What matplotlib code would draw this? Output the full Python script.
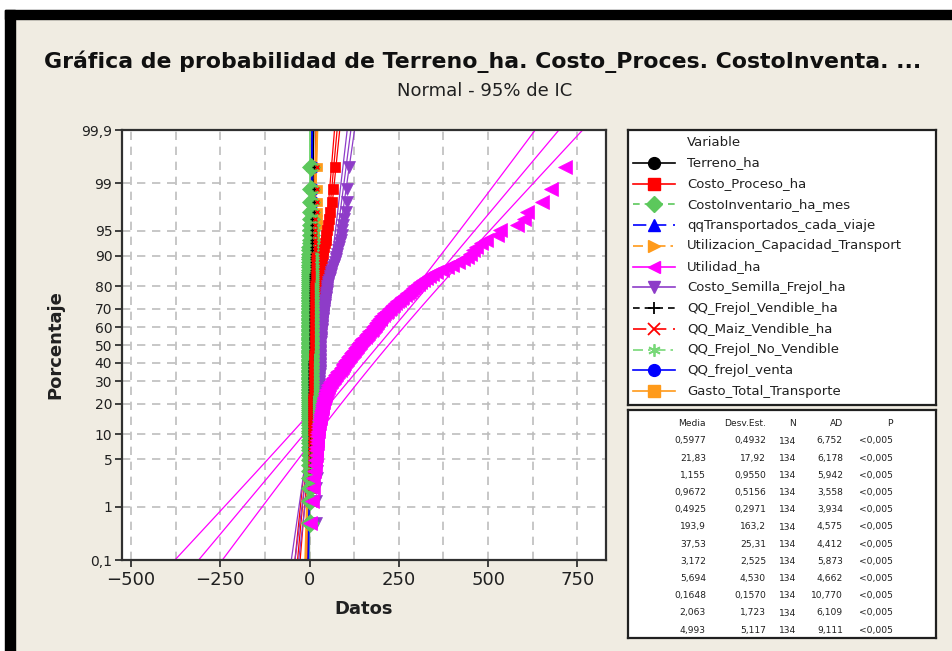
import numpy as np
import matplotlib
matplotlib.use("Agg")
import matplotlib.pyplot as plt
from matplotlib.patches import Rectangle
from statistics import NormalDist

# ---------------- data ----------------
variables = ["Terreno_ha", "Costo_Proceso_ha", "CostoInventario_ha_mes",
             "qqTransportados_cada_viaje", "Utilizacion_Capacidad_Transport",
             "Utilidad_ha", "Costo_Semilla_Frejol_ha", "QQ_Frejol_Vendible_ha",
             "QQ_Maiz_Vendible_ha", "QQ_Frejol_No_Vendible", "QQ_frejol_venta",
             "Gasto_Total_Transporte"]

# discrete-ish series: values with repetition counts (read approx. from the stacks near 0)
terreno_vals = [0, 1]
terreno_counts = [54, 80]
inventario_vals = [0.0, 0.3, 0.6, 0.9, 1.2, 1.5, 1.8, 2.4, 3.0, 4.0, 5.0]
inventario_counts = [10, 15, 20, 22, 20, 15, 12, 10, 6, 3, 1]
transportados_vals = [0.25, 0.5, 1.0, 1.5, 2.0]
transportados_counts = [20, 15, 60, 30, 9]
utilizacion_vals = [0.1, 0.25, 0.5, 0.75, 1.0]
utilizacion_counts = [25, 20, 40, 30, 19]
frejol_vend_vals = [0, 1, 2, 3, 4, 5, 6, 8, 12]
frejol_vend_counts = [10, 20, 25, 25, 20, 14, 10, 6, 4]
maiz_vals = [0, 2, 4, 6, 8, 10, 15, 20]
maiz_counts = [12, 20, 30, 28, 20, 12, 8, 4]
frejol_novend_vals = [0, 0.1, 0.2, 0.3, 0.5, 0.8]
frejol_novend_counts = [30, 35, 35, 20, 10, 4]
frejol_venta_vals = [0, 1, 2, 3, 4, 6, 9]
frejol_venta_counts = [15, 30, 40, 25, 14, 7, 3]
gasto_vals = [0, 2, 4, 6, 10, 15, 25]
gasto_counts = [20, 30, 35, 20, 15, 8, 6]

costo_proceso = [3, 4, 5, 5.5, 6, 6.5, 7,
                 7.3, 7.6, 7.9, 8.2, 8.5, 8.8, 9,
                 9.2, 9.4, 9.6, 9.8, 10, 10.2, 10.4, 10.6, 10.8, 11, 11.2, 11.4, 11.6,
                 11.8, 12, 12.2, 12.4, 12.6, 12.8, 13, 13.2, 13.4, 13.6, 13.8, 14, 14.2, 14.4,
                 14.6, 14.8, 15, 15.2, 15.4, 15.6, 15.8, 16, 16.2, 16.4, 16.6, 16.8, 17,
                 17.2, 17.4, 17.6, 17.8, 18, 18.2, 18.4, 18.6, 18.8, 19, 19.2, 19.4, 19.6, 19.8,
                 20, 20.2, 20.4, 20.6, 20.8, 21, 21.2, 21.4, 21.6, 21.8, 22, 22.2, 22.4,
                 22.6, 22.8, 23, 23.2, 23.4, 23.6, 23.8, 24, 24.2, 24.4, 24.6, 24.8, 25,
                 25.3, 25.6, 25.9, 26.2, 26.5, 26.8, 27.1, 27.4, 27.7, 28, 28.3, 28.6, 28.9, 29.2,
                 29.4, 29.6, 29.8, 30, 30.2, 30.4, 30.6,
                 31, 31.5, 32, 33, 34, 35,
                 37, 39, 41, 43,
                 45, 47, 49,
                 51, 55, 58, 62, 65, 71]

costo_semilla = [17, 18.5, 19.5, 20, 20.5, 21, 21.5,
                 22, 22.3, 22.6, 23, 23.3, 23.6, 24,
                 24.2, 24.4, 24.6, 24.8, 25, 25.2, 25.4, 25.6, 25.8, 25.9, 26, 26, 26,
                 26.1, 26.2, 26.3, 26.4, 26.5, 26.6, 26.7, 26.8, 26.9, 27, 27.1, 27.2, 27.3, 27.5,
                 27.6, 27.7, 27.8, 27.9, 28, 28.1, 28.2, 28.4, 28.5, 28.6, 28.7, 28.8, 29,
                 29.1, 29.2, 29.3, 29.4, 29.5, 29.6, 29.7, 29.8, 29.9, 30, 30.1, 30.2, 30.3, 30.4,
                 30.7, 31, 31.3, 31.6, 31.9, 32.2, 32.5, 32.8, 33.1, 33.4, 33.7, 34, 34.3,
                 34.7, 35.1, 35.5, 35.9, 36.3, 36.7, 37.1, 37.5, 37.9, 38.3, 38.8, 39.4, 40,
                 40.7, 41.4, 42.1, 42.8, 43.5, 44.2, 44.9, 45.6, 46.3, 47, 47.7, 48.4, 49.2, 50,
                 51.5, 53, 54.5, 56, 57.5, 59, 61,
                 64, 67, 69, 71, 73, 75,
                 78, 80, 82, 84,
                 87, 90, 92,
                 95, 97, 101, 104, 106, 110]

utilidad = [2, 6, 9, 11, 13, 14, 16,
            17, 18, 19, 20, 21, 21, 22,
            23, 24, 25, 26, 27, 28,
            29, 30, 31, 33, 34, 35, 36,
            37, 38, 40, 41, 42, 44, 45,
            47, 49, 51, 53, 55, 58, 60,
            63, 66, 69, 72, 75, 78,
            81, 84, 87, 90, 93, 95, 97,
            100, 103, 106, 108, 110, 113, 115,
            118, 121, 124, 127, 130, 132, 135,
            138, 141, 144, 147, 150, 154,
            157, 160, 164, 167, 171, 175, 178,
            181, 184, 187, 190, 193, 196, 198,
            201, 205, 209, 213, 217, 222,
            226, 230, 235, 240, 245, 250, 255,
            260, 266, 272, 278, 284, 290, 296,
            303, 310, 318, 326, 334, 343,
            355, 370, 385, 400,
            415, 430,
            440, 450, 458, 465, 480, 495, 525, 533, 580, 600, 610, 650, 675, 716]

# summary table (as printed)
media = [0.5977, 21.83, 1.155, 0.9672, 0.4925, 193.9, 37.53, 3.172, 5.694, 0.1648, 2.063, 4.993]
desv_est = [0.4932, 17.92, 0.9550, 0.5156, 0.2971, 163.2, 25.31, 2.525, 4.530, 0.1570, 1.723, 5.117]
n_obs = [134] * 12
ad_stat = [6.752, 6.178, 5.942, 3.558, 3.934, 4.575, 4.412, 5.873, 4.662, 10.770, 6.109, 9.111]
p_text = ["<0,005"] * 12

pct_ticks = [0.1, 1, 5, 10, 20, 30, 40, 50, 60, 70, 80, 90, 95, 99, 99.9]
pct_labels = ["0,1", "1", "5", "10", "20", "30", "40", "50", "60", "70", "80", "90", "95", "99", "99,9"]
x_ticks = [-500, -250, 0, 250, 500, 750]

# ---------------- styles ----------------
colors = ["#000000", "#FF0000", "#5CC85C", "#0000FF", "#FF9A1A", "#FF00FF",
          "#8E3CC8", "#000000", "#FF0000", "#78D878", "#0000FF", "#FF9A1A"]
markers = ["o", "s", "D", "^", ">", "<", "v", "+", "x", (6, 2, 0), "o", "s"]
DASH = (0, (4, 3))
LONG = (0, (8, 4))
DDOT = (0, (6, 3, 1.5, 3))
lstyles = ["-", "-", DASH, LONG, DDOT, "-", "-", DASH, LONG, DDOT, "-", "-"]
msizes = [5, 6.5, 9.5, 5.5, 5.5, 10, 8, 3, 3, 5, 8.5, 5.5]
zords = [3.0, 3.4, 5.5, 3.1, 3.2, 6.0, 5.0, 5.6, 5.6, 3.3, 2.9, 3.15]

series = [np.repeat(terreno_vals, terreno_counts),
          np.array(costo_proceso, float),
          np.repeat(inventario_vals, inventario_counts),
          np.repeat(transportados_vals, transportados_counts),
          np.repeat(utilizacion_vals, utilizacion_counts),
          np.array(utilidad, float),
          np.array(costo_semilla, float),
          np.repeat(frejol_vend_vals, frejol_vend_counts),
          np.repeat(maiz_vals, maiz_counts),
          np.repeat(frejol_novend_vals, frejol_novend_counts),
          np.repeat(frejol_venta_vals, frejol_venta_counts),
          np.repeat(gasto_vals, gasto_counts)]

nd = NormalDist()
BG = "#F0ECE2"
W, H = 952, 651

def fx(px):
    return px / W

def fy(py):
    return 1 - py / H

fig = plt.figure(figsize=(9.52, 6.51), dpi=100, facecolor=BG)

# outer screenshot frame
fig.patches.append(Rectangle((0, fy(10)), 1, 10 / H, transform=fig.transFigure, color="white", zorder=0))
fig.patches.append(Rectangle((0, 0), fx(5), 1, transform=fig.transFigure, color="white", zorder=0))
fig.patches.append(Rectangle((fx(5), fy(19)), 1, 9 / H, transform=fig.transFigure, color="black", zorder=1))
fig.patches.append(Rectangle((fx(5), 0), fx(10), fy(10), transform=fig.transFigure, color="black", zorder=1))

# ---------------- main axes ----------------
ax = fig.add_axes([fx(122), fy(560), fx(606) - fx(122), (560 - 130) / H])
ax.set_facecolor("white")
zlo, zhi = nd.inv_cdf(0.001), nd.inv_cdf(0.999)
ax.set_ylim(zlo, zhi)
ax.set_xlim(-525, 830)

for k, vals in enumerate(series):
    v = np.sort(vals)
    n = len(v)
    ranks = np.arange(1, n + 1)
    z = np.array([nd.inv_cdf((r - 0.3) / (n + 0.4)) for r in ranks])
    c = colors[k]
    m, s = media[k], desv_est[k]
    zl = np.linspace(zlo, zhi, 60)
    xf = m + s * zl
    se = s * np.sqrt(1.0 / n + zl ** 2 / (2.0 * n))
    ax.plot(xf, zl, color=c, lw=0.9, ls=lstyles[k], zorder=2.5)
    ax.plot(xf - 1.96 * se, zl, color=c, lw=0.9, zorder=2.5)
    ax.plot(xf + 1.96 * se, zl, color=c, lw=0.9, zorder=2.5)
    mk = markers[k]
    if mk in ("+", "x") or isinstance(mk, tuple):
        ax.plot(v, z, ls="none", marker=mk, ms=msizes[k], mec=c, mew=1.0, zorder=zords[k])
    else:
        ax.plot(v, z, ls="none", marker=mk, ms=msizes[k], mfc=c, mec=c, mew=0.5, zorder=zords[k])

ax.set_yticks([nd.inv_cdf(p / 100) for p in pct_ticks])
ax.set_yticklabels(pct_labels)
ax.set_xticks(x_ticks)
ax.set_xticks([-375, -125, 125, 375, 625], minor=True)
ax.tick_params(axis="x", which="major", labelsize=13, length=5, width=1.3, color="#303030", labelcolor="#202020", pad=3)
ax.tick_params(axis="x", which="minor", length=0)
ax.tick_params(axis="y", labelsize=10, length=5, width=1.3, color="#303030", labelcolor="#202020", pad=2)
ax.grid(True, which="both", axis="x", color="#BDBDBD", ls=(0, (5, 4)), lw=1.2, zorder=0)
ax.grid(True, which="major", axis="y", color="#BDBDBD", ls=(0, (5, 4)), lw=1.2, zorder=0)
ax.set_axisbelow(True)
for sp in ax.spines.values():
    sp.set_color("#303030")
    sp.set_linewidth(1.6)

ax.set_ylabel("Porcentaje", fontsize=13, fontweight="bold", color="#202020")
ax.yaxis.set_label_coords(-0.12, 0.5)
ax.set_xlabel("Datos", fontsize=13, fontweight="bold", color="#202020")
ax.xaxis.set_label_coords(0.5, -0.093)

fig.text(fx(483), fy(62), "Gráfica de probabilidad de Terreno_ha. Costo_Proces. CostoInventa. ...",
         ha="center", va="center", fontsize=15.8, fontweight="bold", color="#101010")
fig.text(fx(485), fy(91), "Normal - 95% de IC", ha="center", va="center", fontsize=13, color="#202020")

# ---------------- legend box ----------------
lax = fig.add_axes([fx(628), fy(405), fx(936) - fx(628), (405 - 130) / H])
lax.set_xlim(628, 936)
lax.set_ylim(405, 130)
lax.set_xticks([])
lax.set_yticks([])
lax.set_facecolor("white")
for sp in lax.spines.values():
    sp.set_color("#202020")
    sp.set_linewidth(1.6)
lax.text(687, 142, "Variable", fontsize=9.5, va="center", ha="left", color="#202020")
for k, name in enumerate(variables):
    yy = 163 + k * 20.73
    c = colors[k]
    lax.plot([633, 675], [yy, yy], color=c, lw=1.2, ls=lstyles[k])
    mk = markers[k]
    if mk in ("+", "x") or isinstance(mk, tuple):
        lax.plot([654], [yy], ls="none", marker=mk, ms=9, mec=c, mew=1.3)
    else:
        lax.plot([654], [yy], ls="none", marker=mk, ms=8.5, mfc=c, mec=c)
    lax.text(687, yy, name, fontsize=9.5, va="center", ha="left", color="#202020")

# ---------------- statistics table ----------------
sax = fig.add_axes([fx(628), fy(638), fx(936) - fx(628), (638 - 410) / H])
sax.set_xlim(628, 936)
sax.set_ylim(638, 410)
sax.set_xticks([])
sax.set_yticks([])
sax.set_facecolor("white")
for sp in sax.spines.values():
    sp.set_color("#202020")
    sp.set_linewidth(1.6)

def comma(txt):
    return txt.replace(".", ",")

col_x = [706, 766, 796, 843, 893]
headers = ["Media", "Desv.Est.", "N", "AD", "P"]
for cx, h in zip(col_x, headers):
    sax.text(cx, 423, h, fontsize=6.6, ha="right", va="center", color="#202020")
for k in range(len(variables)):
    yy = 441 + k * 17.2
    row = [comma(f"{media[k]:#.4g}"), comma(f"{desv_est[k]:#.4g}"), str(n_obs[k]),
           comma(f"{ad_stat[k]:.3f}"), p_text[k]]
    for cx, t in zip(col_x, row):
        sax.text(cx, yy, t, fontsize=6.6, ha="right", va="center", color="#202020")

fig.savefig("out.png", dpi=100, facecolor=BG)
